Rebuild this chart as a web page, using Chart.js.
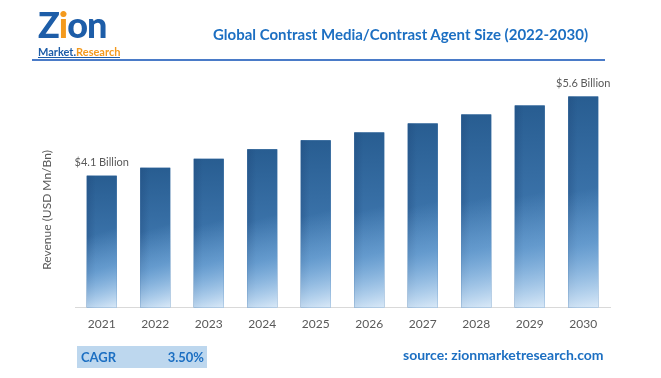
<!DOCTYPE html>
<html lang="en">
<head>
    <meta charset="UTF-8">
    <title>Global Contrast Media/Contrast Agent Size</title>
    <script src="https://cdn.jsdelivr.net/npm/chart.js"></script>
    <style>
        body {
            margin: 0;
            width: 661px;
            height: 378px;
            background: #fff;
            font-family: Lato, "Open Sans", sans-serif;
            position: relative;
            overflow: hidden;
        }
        .chart-box {
            position: absolute;
            left: 0;
            top: 0;
            width: 661px;
            height: 378px;
        }
        .logo {
            position: absolute;
            left: 38px;
            top: 6px;
            line-height: 1;
        }
        .logo .big {
            font-size: 36px;
            font-weight: 900;
            color: #1d5da8;
            letter-spacing: -1px;
        }
        .logo .big .i { color: #f39a1e; }
        .logo .small {
            font-size: 11px;
            font-weight: 700;
            color: #1d5da8;
            margin-top: -2px;
            border-bottom: 1px solid #1d5da8;
            display: inline-block;
        }
        .logo .small .r { color: #f39a1e; }
        .rule {
            position: absolute;
            left: 32px;
            top: 59px;
            width: 573px;
            height: 2px;
            background: #4a7bc8;
        }
        .title {
            position: absolute;
            left: 213px;
            top: 25px;
            font-size: 15px;
            font-weight: 700;
            color: #1c6fc2;
            white-space: nowrap;
        }
        .cagr {
            position: absolute;
            left: 77px;
            top: 346px;
            width: 130px;
            height: 22px;
            background: #bdd7ee;
            color: #1c6fc2;
            font-size: 13px;
            font-weight: 700;
            line-height: 22px;
        }
        .cagr .k { position: absolute; left: 4px; }
        .cagr .v { position: absolute; right: 3px; }
        .source {
            position: absolute;
            left: 403px;
            top: 346px;
            font-size: 14px;
            font-weight: 700;
            color: #1c6fc2;
            white-space: nowrap;
        }
    </style>
</head>
<body>
    <div class="chart-box"><canvas id="chart"></canvas></div>

    <div class="logo">
        <div class="big">Z<span class="i">i</span>on</div>
        <div class="small">Market.<span class="r">Research</span></div>
    </div>
    <div class="rule"></div>
    <div class="title">Global Contrast Media/Contrast Agent Size (2022-2030)</div>
    <div class="cagr"><span class="k">CAGR</span><span class="v">3.50%</span></div>
    <div class="source">source: zionmarketresearch.com</div>

    <script>
        // Chart data
        const years = ["2021", "2022", "2023", "2024", "2025", "2026", "2027", "2028", "2029", "2030"];
        const revenue = [4.1, 4.25, 4.42, 4.6, 4.77, 4.92, 5.09, 5.26, 5.43, 5.6];
        const barLabels = ["$4.1 Billion", "", "", "", "", "", "", "", "", "$5.6 Billion"];
        const yMin = 1.6;
        const yMax = 5.8;

        // Redraw each bar with the shaded blue look
        const barShade = {
            id: "barShade",
            afterDatasetsDraw(chart) {
                const ctx = chart.ctx;
                chart.getDatasetMeta(0).data.forEach(bar => {
                    const x = bar.x - bar.width / 2;
                    const w = bar.width;
                    const top = bar.y;
                    const h = bar.base - bar.y;

                    const v = ctx.createLinearGradient(0, top, 0, bar.base);
                    v.addColorStop(0, "#285d91");
                    v.addColorStop(1, "#4f8ac4");
                    ctx.fillStyle = v;
                    ctx.fillRect(x, top, w, h);

                    const hz = ctx.createLinearGradient(x, 0, x + w, 0);
                    hz.addColorStop(0, "rgba(30,70,120,0.35)");
                    hz.addColorStop(0.3, "rgba(30,70,120,0)");
                    hz.addColorStop(1, "rgba(30,70,120,0)");
                    ctx.fillStyle = hz;
                    ctx.fillRect(x, top, w, h);

                    const d = ctx.createLinearGradient(x + w * 0.2, bar.base - h * 0.55, x + w, bar.base);
                    d.addColorStop(0, "rgba(140,190,235,0)");
                    d.addColorStop(0.45, "rgba(140,190,235,0.45)");
                    d.addColorStop(1, "rgba(225,238,250,0.95)");
                    ctx.fillStyle = d;
                    ctx.fillRect(x, top, w, h);
                });
            }
        };

        // First and last value labels, y axis title
        const textPlugin = {
            id: "textPlugin",
            afterDraw(chart) {
                const ctx = chart.ctx;
                ctx.save();
                ctx.fillStyle = "#595959";
                ctx.font = "11px Lato, 'Open Sans', sans-serif";
                ctx.textAlign = "center";
                ctx.textBaseline = "middle";
                chart.getDatasetMeta(0).data.forEach((bar, i) => {
                    if (barLabels[i]) ctx.fillText(barLabels[i], bar.x, bar.y - 13);
                });
                ctx.font = "12px Lato, 'Open Sans', sans-serif";
                ctx.translate(47, 210);
                ctx.rotate(-Math.PI / 2);
                ctx.fillText("Revenue (USD Mn/Bn)", 0, 0);
                ctx.restore();
            }
        };

        new Chart(document.getElementById("chart"), {
            type: "bar",
            data: {
                labels: years,
                datasets: [{
                    data: revenue,
                    base: yMin,
                    backgroundColor: "#3a72aa",
                    barPercentage: 0.56,
                    categoryPercentage: 1
                }]
            },
            options: {
                responsive: true,
                maintainAspectRatio: false,
                animation: false,
                layout: { padding: { left: 75, right: 51, top: 86, bottom: 38 } },
                plugins: {
                    legend: { display: false },
                    tooltip: { enabled: false }
                },
                scales: {
                    x: {
                        grid: { display: false, drawTicks: false },
                        border: { color: "#d9d9d9", width: 1 },
                        ticks: { color: "#595959", font: { family: "Lato", size: 12 }, padding: 9 }
                    },
                    y: {
                        display: false,
                        min: yMin,
                        max: yMax
                    }
                }
            },
            plugins: [barShade, textPlugin]
        });
    </script>
</body>
</html>
